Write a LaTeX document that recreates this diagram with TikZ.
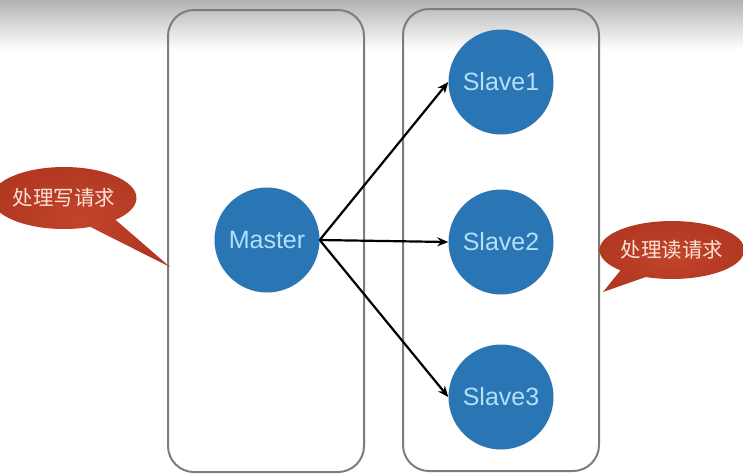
\documentclass[tikz,border=0pt]{standalone}
\usepackage{fontspec}
\setmainfont{Liberation Sans}
\newfontfamily\cjk{Noto Sans CJK SC}
\usetikzlibrary{arrows.meta,shapes.callouts,shapes.geometric}
\definecolor{nodeblue}{RGB}{42,118,180}
\definecolor{nodetext}{RGB}{178,224,250}
\definecolor{boxgray}{RGB}{125,125,125}
\definecolor{calloutred}{RGB}{194,68,42}
\definecolor{calloutdark}{RGB}{178,56,34}
\definecolor{callouttext}{RGB}{252,225,214}
\tikzset{
  container/.style={draw=boxgray, line width=2pt, rounded corners=26pt,
    minimum width=196pt, minimum height=462pt, inner sep=0pt},
  server/.style={circle, fill=nodeblue, text=nodetext, minimum size=105pt,
    inner sep=0pt, font=\fontsize{25}{29}\selectfont},
  conn/.style={line width=2.2pt, -{Stealth[length=11pt,width=9pt]}},
  bubble/.style={ellipse callout, shading=radial, inner color=calloutred,
    outer color=calloutdark, callout pointer arc=24,
    text=callouttext, inner sep=0pt, font=\cjk\fontsize{20.5}{24}\selectfont}
}
\begin{document}
\begin{tikzpicture}[x=1pt,y=-1pt]
\useasboundingbox (0,0) rectangle (743,475);
\fill[white] (0,0) rectangle (743,475);
\shade[top color=black!30, bottom color=white] (0,0) rectangle (743,50);
\node[container] (leftbox) at (266,241) {};
\node[container] (rightbox) at (501,240) {};
\node[server] (master) at (267,240) {Master};
\node[server] (slave1) at (501,82) {Slave1};
\node[server] (slave2) at (501,242) {Slave2};
\node[server] (slave3) at (501,397) {Slave3};
\draw[conn] (master.east) -- (slave1.west);
\draw[conn] (master.east) -- (slave2.west);
\draw[conn] (master.east) -- (slave3.west);
\coordinate (ltip) at (170,267);
\coordinate (rtip) at (603,292);
\node[bubble, minimum width=136pt, minimum height=62pt,
  callout absolute pointer={(ltip)}] (writereq) at (64,198) {处理写请求};
\node[bubble, minimum width=136pt, minimum height=58pt,
  callout absolute pointer={(rtip)}] (readreq) at (672,250) {处理读请求};
\end{tikzpicture}
\end{document}
